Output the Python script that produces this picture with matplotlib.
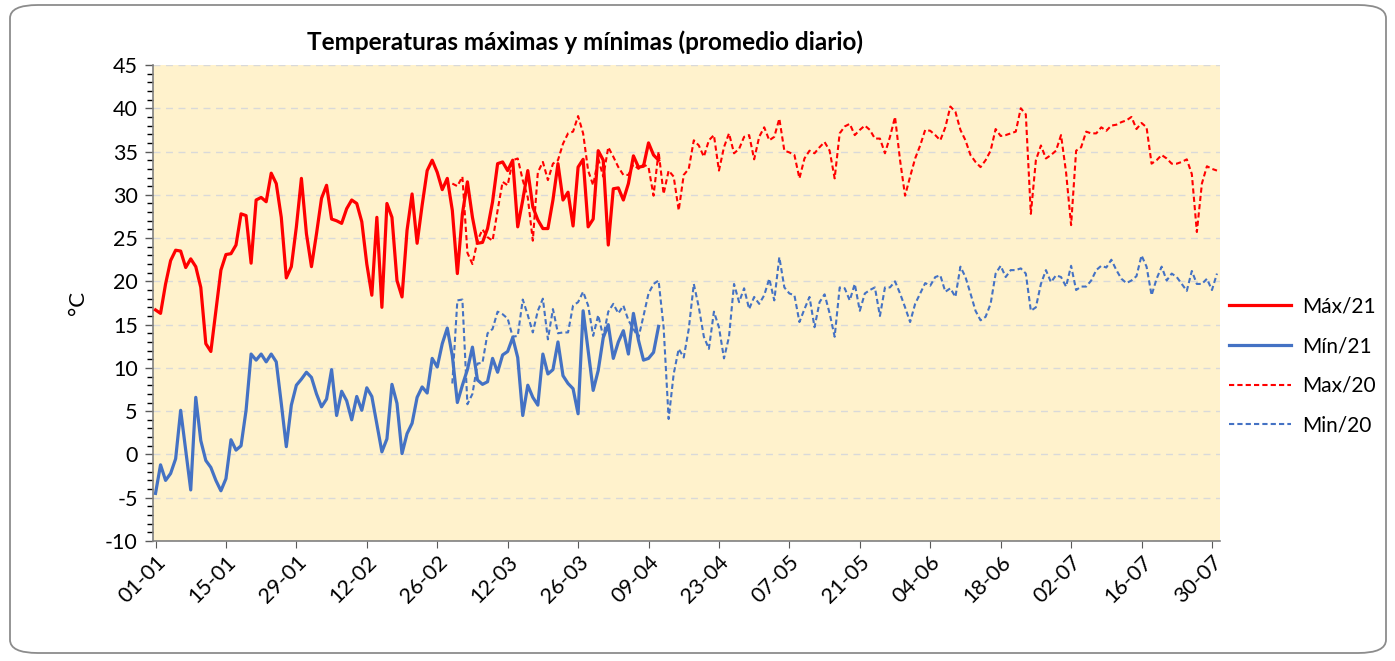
import numpy as np
import matplotlib
matplotlib.use('Agg')
import matplotlib.pyplot as plt
from matplotlib.patches import FancyBboxPatch
from matplotlib.ticker import MultipleLocator

plt.rcParams['font.family'] = ['Lato', 'DejaVu Sans']
plt.rcParams['axes.unicode_minus'] = False

# Datos (día 0 = 01-01)
max21 = [16.7, 16.3, 19.7, 22.4, 23.6, 23.5, 21.6, 22.6, 21.7, 19.3,
         12.8, 11.9, 16.6, 21.3, 23.1, 23.2, 24.2, 27.8, 27.6, 22.1,
         29.4, 29.7, 29.2, 32.5, 31.3, 27.4, 20.4, 21.7, 26.3, 31.9,
         25.5, 21.7, 25.5, 29.6, 31.1, 27.2, 27.0, 26.7, 28.4, 29.4,
         29.0, 26.9, 22.0, 18.4, 27.4, 17.0, 29.0, 27.4, 20.1, 18.2,
         25.9, 30.1, 24.4, 28.8, 32.8, 34.0, 32.6, 30.6, 31.9, 28.2,
         20.9, 27.8, 31.5, 27.4, 24.4, 24.5, 26.1, 29.2, 33.6, 33.8,
         32.8, 34.0, 26.3, 29.4, 32.8, 28.6, 27.1, 26.1, 26.1, 29.4,
         33.6, 29.4, 30.3, 26.4, 33.2, 34.1, 26.3, 27.2, 35.1, 34.0,
         24.2, 30.7, 30.8, 29.4, 31.3, 34.5, 33.2, 33.3, 36.0, 34.6,
         34.0]

min21 = [-4.5, -1.2, -3.0, -2.2, -0.5, 5.1, 0.5, -4.1, 6.6, 1.6,
         -0.7, -1.5, -3.0, -4.2, -2.8, 1.7, 0.5, 1.0, 5.1, 11.6,
         10.9, 11.6, 10.7, 11.6, 10.7, 5.9, 0.9, 5.7, 8.0, 8.7,
         9.5, 8.9, 7.0, 5.5, 6.4, 9.8, 4.5, 7.3, 6.2, 4.0,
         6.7, 5.1, 7.7, 6.7, 3.5, 0.3, 1.8, 8.1, 5.9, 0.1,
         2.4, 3.6, 6.6, 7.8, 7.1, 11.1, 10.1, 12.8, 14.6, 11.4,
         6.0, 8.0, 9.8, 12.4, 8.6, 8.1, 8.4, 11.1, 9.5, 11.5,
         11.9, 13.5, 11.2, 4.5, 8.0, 6.6, 5.7, 11.6, 9.3, 9.8,
         13.0, 9.1, 8.2, 7.6, 4.7, 16.6, 12.0, 7.4, 9.7, 13.5,
         15.0, 11.1, 13.0, 14.3, 11.6, 16.3, 13.2, 10.9, 11.1, 11.8,
         14.8]

inicio20 = 59  # primer día con datos de 2020
max20 = [31.3, 31.0, 32.1, 23.3, 22.0, 24.7, 26.0, 25.1, 24.7, 28.2,
         31.5, 31.1, 34.0, 34.2, 31.7, 29.7, 24.7, 32.6, 33.8, 31.7,
         33.6, 34.0, 35.9, 37.1, 37.3, 39.1, 37.1, 32.8, 31.1, 34.2,
         32.1, 35.5, 34.4, 33.2, 32.3, 32.3, 33.5, 33.0, 33.5, 33.2,
         29.9, 35.0, 30.1, 32.8, 32.1, 28.2, 32.3, 33.0, 36.3, 35.7,
         34.4, 36.3, 36.9, 32.8, 35.5, 37.1, 34.8, 35.3, 36.7, 36.9,
         34.1, 36.7, 37.8, 36.3, 36.7, 38.8, 35.1, 34.9, 34.6, 31.9,
         34.2, 35.1, 34.8, 35.5, 36.1, 35.1, 31.9, 37.1, 37.9, 38.2,
         36.9, 37.5, 38.0, 37.5, 36.5, 36.5, 34.8, 36.7, 39.0, 34.0,
         29.9, 32.1, 34.2, 35.7, 37.5, 37.4, 36.9, 36.3, 37.8, 40.2,
         39.6, 37.5, 36.3, 34.6, 33.8, 33.2, 34.0, 35.1, 37.6, 36.8,
         36.9, 37.1, 37.3, 40.0, 39.3, 27.8, 34.0, 35.7, 34.2, 34.6,
         35.1, 36.9, 32.6, 26.5, 35.1, 35.5, 37.3, 37.1, 37.1, 37.8,
         37.4, 38.0, 38.1, 38.4, 38.6, 39.0, 37.6, 38.3, 37.8, 33.6,
         34.0, 34.6, 34.2, 33.6, 33.6, 33.8, 34.1, 32.4, 25.7, 31.3,
         33.3, 33.0, 32.8]

min20 = [8.2, 17.8, 17.9, 5.8, 7.0, 10.5, 10.6, 14.0, 14.5, 16.5,
         16.2, 15.7, 13.6, 13.7, 17.9, 16.1, 14.1, 16.6, 18.0, 13.3,
         16.8, 14.0, 14.1, 14.1, 17.2, 17.6, 18.8, 17.2, 13.7, 16.1,
         13.6, 16.5, 17.4, 16.3, 17.2, 15.5, 14.5, 13.5, 16.0, 18.6,
         19.7, 20.1, 14.7, 4.1, 9.3, 12.2, 11.2, 14.5, 19.7, 17.0,
         13.6, 12.2, 16.5, 14.7, 11.1, 13.6, 19.7, 17.6, 19.2, 16.8,
         18.2, 17.4, 18.4, 20.3, 17.8, 22.8, 19.3, 18.6, 18.4, 15.3,
         16.8, 18.2, 14.7, 17.6, 18.5, 16.3, 13.6, 19.3, 19.2, 17.8,
         19.7, 16.6, 18.6, 19.0, 19.3, 16.0, 19.3, 19.3, 20.0, 18.6,
         17.0, 15.3, 17.4, 18.6, 19.8, 19.5, 20.5, 20.7, 18.8, 19.2,
         18.2, 21.7, 20.5, 18.6, 16.6, 15.5, 15.9, 17.4, 20.9, 21.8,
         20.5, 21.3, 21.3, 21.5, 20.9, 16.6, 17.0, 19.7, 21.3, 19.9,
         20.7, 20.5, 19.4, 21.8, 19.0, 19.4, 19.4, 20.1, 21.3, 21.8,
         21.6, 22.5, 21.3, 20.3, 19.8, 20.1, 20.6, 23.0, 21.7, 18.4,
         20.3, 21.7, 20.1, 20.9, 20.5, 19.7, 18.9, 21.2, 19.7, 19.7,
         20.3, 19.0, 20.9]

etiquetas_x = ['01-01', '15-01', '29-01', '12-02', '26-02', '12-03', '26-03', '09-04',
               '23-04', '07-05', '21-05', '04-06', '18-06', '02-07', '16-07', '30-07']

ROJO = '#FF0000'
AZUL = '#4472C4'

fig = plt.figure(figsize=(13.95, 6.61), dpi=100)

# marco redondeado exterior
marco = FancyBboxPatch((10 / 1395, 8 / 661), 1376 / 1395, 648 / 661,
                       boxstyle='round,pad=0,rounding_size=0.02',
                       transform=fig.transFigure, facecolor='white',
                       edgecolor='#8C8C8C', linewidth=1.3, zorder=-10)
fig.patches.append(marco)

ax = fig.add_axes([153 / 1395, 1 - 541 / 661, (1220 - 153) / 1395, (541 - 65) / 661])
ax.set_facecolor('#FFF2CC')

dias21 = np.arange(len(max21))
dias20 = np.arange(inicio20, inicio20 + len(max20))

ax.plot(dias21, max21, color=ROJO, lw=2.3, label='Máx/21', zorder=4)
ax.plot(dias21, min21, color=AZUL, lw=2.3, label='Mín/21', zorder=4)
ax.plot(dias20, max20, color=ROJO, lw=1.5, ls=(0, (2.5, 1.5)), label='Max/20', zorder=3)
ax.plot(dias20, min20, color=AZUL, lw=1.5, ls=(0, (2.5, 1.5)), label='Min/20', zorder=3)

ax.set_xlim(-0.5, 211.6)
ax.set_ylim(-10, 45)
ax.yaxis.set_major_locator(MultipleLocator(5))
ax.yaxis.set_minor_locator(MultipleLocator(1))
ax.set_xticks(np.arange(0, 211, 14))
ax.set_xticklabels(etiquetas_x, rotation=45, ha='right', rotation_mode='anchor')
ax.tick_params(axis='both', labelsize=15.5, colors='#595959', labelcolor='black')
ax.tick_params(axis='y', which='major', length=6, width=1, pad=5)
ax.tick_params(axis='y', which='minor', length=4, width=1)
ax.tick_params(axis='x', length=5, pad=3)

ax.grid(axis='y', which='major', color='#D9D9D9', ls=(0, (5, 4)), lw=1)
ax.set_axisbelow(True)
for lado in ['top', 'right']:
    ax.spines[lado].set_visible(False)
for lado in ['left', 'bottom']:
    ax.spines[lado].set_color('#808080')
    ax.spines[lado].set_linewidth(1.2)

ax.set_ylabel('°C', fontsize=16, labelpad=12)

fig.text(585 / 1395, 1 - 42 / 661, 'Temperaturas máximas y mínimas (promedio diario)',
         ha='center', va='center', fontsize=17.5, fontweight='bold')

fig.legend(loc='center left', bbox_to_anchor=(1210 / 1395, 1 - 366 / 661),
           frameon=False, fontsize=15, handlelength=3.0, labelspacing=0.95,
           handletextpad=0.5)

fig.savefig('out.png', dpi=100)
